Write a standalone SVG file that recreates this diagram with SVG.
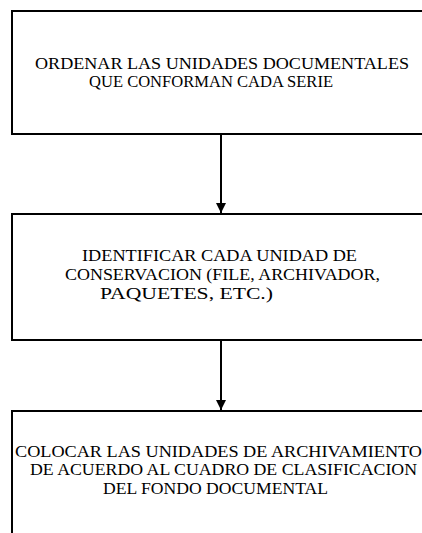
<svg xmlns="http://www.w3.org/2000/svg" width="422" height="533" viewBox="0 0 422 533">
<defs>
<style>
.box{fill:#fff;stroke:#000;stroke-width:2}
.t{font-family:"Liberation Serif","Times New Roman",serif;font-size:17px;fill:#000}
.c{stroke:#000;stroke-width:2;fill:none}
</style>
<marker id="ah" markerWidth="10" markerHeight="10" refX="10" refY="5" orient="auto" markerUnits="userSpaceOnUse" viewBox="0 0 10 10">
<path d="M0,0 L10,5 L0,10 Z" fill="#000"/>
</marker>
</defs>
<rect width="422" height="533" fill="#fff"/>
<g id="n1">
<path class="box" d="M430,11 H12 V134 H430"/>
<text class="t" x="35" y="69" textLength="374" lengthAdjust="spacingAndGlyphs">ORDENAR LAS UNIDADES DOCUMENTALES</text>
<text class="t" x="89" y="87" textLength="244" lengthAdjust="spacingAndGlyphs">QUE CONFORMAN CADA SERIE</text>
</g>
<g id="n2">
<path class="box" d="M430,214 H12 V340 H430"/>
<text class="t" x="82" y="261" textLength="275" lengthAdjust="spacingAndGlyphs">IDENTIFICAR CADA UNIDAD DE</text>
<text class="t" x="65" y="280" textLength="315" lengthAdjust="spacingAndGlyphs">CONSERVACION (FILE, ARCHIVADOR,</text>
<text class="t" x="100" y="299" textLength="173" lengthAdjust="spacingAndGlyphs">PAQUETES, ETC.)</text>
</g>
<g id="n3">
<path class="box" d="M430,411 H12 V540"/>
<text class="t" x="15" y="457" textLength="407" lengthAdjust="spacingAndGlyphs">COLOCAR LAS UNIDADES DE ARCHIVAMIENTO</text>
<text class="t" x="30" y="475" textLength="387" lengthAdjust="spacingAndGlyphs">DE ACUERDO AL CUADRO DE CLASIFICACION</text>
<text class="t" x="103" y="494" textLength="225" lengthAdjust="spacingAndGlyphs">DEL FONDO DOCUMENTAL</text>
</g>
<g id="connectors">
<line class="c" x1="221" y1="134" x2="221" y2="213" marker-end="url(#ah)"/>
<line class="c" x1="221" y1="340" x2="221" y2="410" marker-end="url(#ah)"/>
</g>
</svg>
